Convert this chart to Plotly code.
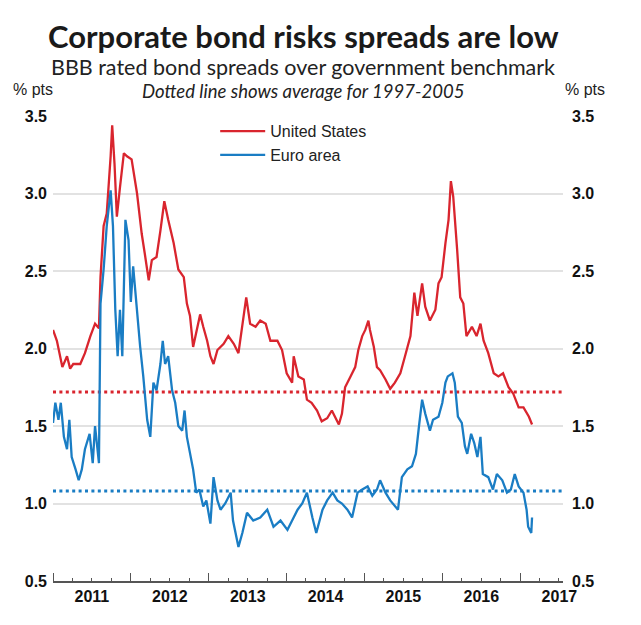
import datetime as dt
import plotly.graph_objects as go

# ---- data (decimal years) ----
us_t = [2011.00, 2011.05, 2011.12, 2011.18, 2011.22, 2011.26, 2011.35, 2011.41, 2011.48, 2011.54,
        2011.59, 2011.61, 2011.65, 2011.69, 2011.74, 2011.76, 2011.79, 2011.82, 2011.86, 2011.91,
        2011.95, 2012.01, 2012.08, 2012.14, 2012.18, 2012.23, 2012.27, 2012.33, 2012.38, 2012.43,
        2012.48, 2012.55, 2012.61, 2012.68, 2012.72, 2012.76, 2012.80, 2012.85, 2012.89, 2012.93,
        2012.98, 2013.02, 2013.06, 2013.11, 2013.19, 2013.25, 2013.32, 2013.38, 2013.43, 2013.48,
        2013.53, 2013.60, 2013.66, 2013.73, 2013.79, 2013.88, 2013.94, 2014.00, 2014.07, 2014.09,
        2014.15, 2014.22, 2014.26, 2014.32, 2014.39, 2014.45, 2014.52, 2014.58, 2014.62, 2014.67,
        2014.71, 2014.75, 2014.82, 2014.88, 2014.92, 2014.97, 2015.01, 2015.05, 2015.07, 2015.12,
        2015.16, 2015.20, 2015.27, 2015.33, 2015.39, 2015.46, 2015.52, 2015.59, 2015.64, 2015.68,
        2015.74, 2015.78, 2015.84, 2015.91, 2015.95, 2015.99, 2016.04, 2016.08, 2016.11, 2016.14,
        2016.19, 2016.23, 2016.27, 2016.31, 2016.38, 2016.44, 2016.49, 2016.53, 2016.59, 2016.66,
        2016.72, 2016.78, 2016.85, 2016.91, 2016.98, 2017.04, 2017.11, 2017.15]
us_v = [2.12, 2.05, 1.88, 1.95, 1.87, 1.90, 1.90, 1.97, 2.08, 2.16,
        2.13, 2.46, 2.79, 2.87, 3.24, 3.44, 3.19, 2.85, 3.04, 3.26,
        3.24, 3.22, 3.00, 2.74, 2.61, 2.44, 2.57, 2.59, 2.76, 2.95,
        2.83, 2.68, 2.51, 2.46, 2.29, 2.21, 2.01, 2.12, 2.22, 2.14,
        2.05, 1.95, 1.90, 1.99, 2.03, 2.08, 2.03, 1.97, 2.14, 2.33,
        2.16, 2.14, 2.18, 2.16, 2.05, 2.05, 1.99, 1.84, 1.78, 1.95,
        1.82, 1.80, 1.67, 1.65, 1.60, 1.53, 1.55, 1.60, 1.56, 1.51,
        1.58, 1.75, 1.82, 1.88, 1.99, 2.08, 2.12, 2.18, 2.12, 2.01,
        1.88, 1.86, 1.80, 1.74, 1.78, 1.84, 1.95, 2.08, 2.36, 2.21,
        2.42, 2.27, 2.18, 2.25, 2.42, 2.46, 2.68, 2.83, 3.08, 2.98,
        2.64, 2.33, 2.29, 2.08, 2.14, 2.08, 2.16, 2.05, 1.97, 1.84,
        1.82, 1.84, 1.75, 1.71, 1.62, 1.62, 1.56, 1.51]

ea_t = [2011.00, 2011.03, 2011.07, 2011.10, 2011.14, 2011.18, 2011.21, 2011.24, 2011.29, 2011.33,
        2011.37, 2011.41, 2011.47, 2011.51, 2011.54, 2011.59, 2011.61, 2011.65, 2011.69, 2011.74,
        2011.77, 2011.80, 2011.83, 2011.86, 2011.89, 2011.93, 2011.97, 2012.00, 2012.03, 2012.08,
        2012.12, 2012.16, 2012.21, 2012.25, 2012.29, 2012.33, 2012.38, 2012.41, 2012.44, 2012.48,
        2012.53, 2012.57, 2012.61, 2012.66, 2012.69, 2012.72, 2012.76, 2012.80, 2012.84, 2012.88,
        2012.93, 2012.97, 2013.02, 2013.06, 2013.11, 2013.15, 2013.21, 2013.28, 2013.31, 2013.38,
        2013.43, 2013.49, 2013.57, 2013.66, 2013.75, 2013.83, 2013.92, 2014.01, 2014.07, 2014.14,
        2014.20, 2014.26, 2014.33, 2014.38, 2014.46, 2014.52, 2014.59, 2014.65, 2014.71, 2014.78,
        2014.84, 2014.91, 2014.97, 2015.04, 2015.10, 2015.16, 2015.20, 2015.27, 2015.33, 2015.39,
        2015.43, 2015.48, 2015.55, 2015.61, 2015.66, 2015.70, 2015.74, 2015.78, 2015.84, 2015.88,
        2015.95, 2016.00, 2016.04, 2016.07, 2016.13, 2016.16, 2016.20, 2016.25, 2016.29, 2016.32,
        2016.37, 2016.41, 2016.45, 2016.49, 2016.52, 2016.59, 2016.65, 2016.70, 2016.77, 2016.83,
        2016.88, 2016.93, 2016.98, 2017.04, 2017.08, 2017.10, 2017.14, 2017.15]
ea_v = [1.52, 1.65, 1.54, 1.65, 1.43, 1.35, 1.54, 1.30, 1.22, 1.15,
        1.22, 1.35, 1.45, 1.26, 1.50, 1.26, 2.29, 2.51, 2.79, 3.02,
        2.79, 2.25, 1.95, 2.25, 1.95, 2.83, 2.70, 2.30, 2.53, 2.21,
        2.01, 1.82, 1.54, 1.43, 1.78, 1.73, 1.90, 2.05, 1.90, 1.95,
        1.73, 1.65, 1.50, 1.47, 1.60, 1.43, 1.32, 1.22, 1.07, 1.09,
        0.98, 1.02, 0.87, 1.17, 1.02, 0.96, 1.00, 1.07, 0.89, 0.72,
        0.81, 0.94, 0.89, 0.91, 0.96, 0.85, 0.89, 0.83, 0.89, 0.96,
        1.00, 1.07, 0.91, 0.81, 0.96, 1.02, 1.07, 1.02, 1.00, 0.96,
        0.91, 1.07, 1.09, 1.11, 1.05, 1.09, 1.15, 1.07, 1.02, 0.98,
        0.96, 1.17, 1.22, 1.24, 1.32, 1.50, 1.67, 1.58, 1.47, 1.54,
        1.56, 1.65, 1.78, 1.82, 1.84, 1.78, 1.56, 1.52, 1.37, 1.32,
        1.45, 1.39, 1.30, 1.43, 1.19, 1.17, 1.09, 1.19, 1.15, 1.07,
        1.09, 1.19, 1.11, 1.07, 0.96, 0.85, 0.81, 0.91]

avg_us = 1.72       # 1997-2005 average, United States
avg_ea = 1.08       # 1997-2005 average, Euro area

series_names = ["United States", "Euro area"]
y_ticks = [0.5, 1.0, 1.5, 2.0, 2.5, 3.0, 3.5]
x_start, x_end = "2011-01-01", "2017-07-20"

RED = "#d9252e"
BLUE = "#1a7dc4"


def to_date(t):
    y = int(t)
    return dt.datetime(y, 1, 1) + dt.timedelta(days=(t - y) * 365.25)


us_x = [to_date(t) for t in us_t]
ea_x = [to_date(t) for t in ea_t]

fig = go.Figure()

# average (dotted) lines
fig.add_trace(go.Scatter(x=[x_start, x_end], y=[avg_us, avg_us], mode="lines",
                         line=dict(color=RED, width=3, dash="3px,3.4px"),
                         showlegend=False, hoverinfo="skip"))
fig.add_trace(go.Scatter(x=[x_start, x_end], y=[avg_ea, avg_ea], mode="lines",
                         line=dict(color=BLUE, width=3, dash="3px,3.4px"),
                         showlegend=False, hoverinfo="skip", yaxis="y2"))

fig.add_trace(go.Scatter(x=us_x, y=us_v, mode="lines", name=series_names[0],
                         line=dict(color=RED, width=2.3)))
fig.add_trace(go.Scatter(x=ea_x, y=ea_v, mode="lines", name=series_names[1],
                         line=dict(color=BLUE, width=2.3)))

SANS = "Liberation Sans, Arial, sans-serif"
bold_tick = dict(family=SANS, size=16, color="#111111", weight="bold")

fig.update_layout(
    width=633, height=617,
    margin=dict(l=45, r=78, t=108, b=44),
    paper_bgcolor="white", plot_bgcolor="white",
    showlegend=True,
    legend=dict(x=0.318, y=1.004, xanchor="left", yanchor="top",
                font=dict(family=SANS, size=16, color="#222222"),
                bgcolor="rgba(255,255,255,0)", itemwidth=45, tracegroupgap=0),
    xaxis=dict(type="date", range=[x_start, x_end],
               tick0="2011-01-01", dtick="M12", ticklabelmode="period",
               tickformat="%Y", ticks="inside", ticklen=8, tickwidth=1.2, tickcolor="#555555",
               showline=True, linecolor="#555555", linewidth=1.5,
               showgrid=False, zeroline=False, tickfont=bold_tick,
               minor=dict(dtick="M3", tick0="2011-01-01", ticks="inside", ticklen=3,
                          tickcolor="#555555", tickwidth=1, showgrid=False)),
    yaxis=dict(range=[0.5, 3.5], tickvals=y_ticks, tickformat=".1f",
               showgrid=True, gridcolor="#e2e2e2", gridwidth=1.5,
               zeroline=False, showline=False, ticks="", ticklabelstandoff=5,
               tickfont=bold_tick),
    yaxis2=dict(range=[0.5, 3.5], tickvals=y_ticks, tickformat=".1f",
                overlaying="y", side="right", showgrid=False, zeroline=False,
                showline=False, ticks="", ticklabelstandoff=8, tickfont=bold_tick),
    annotations=[
        dict(text="<b>Corporate bond risks spreads are low</b>", x=0.491, y=1.172,
             xref="paper", yref="paper", showarrow=False, xanchor="center", yanchor="middle",
             font=dict(family="Lato, Open Sans, sans-serif", size=31, color="#1a1a1a")),
        dict(text="BBB rated bond spreads over government benchmark", x=0.491, y=1.105,
             xref="paper", yref="paper", showarrow=False, xanchor="center", yanchor="middle",
             font=dict(family="Lato, Open Sans, sans-serif", size=21.5, color="#222222")),
        dict(text="<i>Dotted line shows average for 1997-2005</i>", x=0.491, y=1.0527,
             xref="paper", yref="paper", showarrow=False, xanchor="center", yanchor="middle",
             font=dict(family="Lato, Open Sans, sans-serif", size=18.5, color="#222222")),
        dict(text="% pts", x=-0.039, y=1.056, xref="paper", yref="paper", showarrow=False,
             xanchor="center", yanchor="middle",
             font=dict(family=SANS, size=16, color="#222222")),
        dict(text="% pts", x=1.043, y=1.056, xref="paper", yref="paper", showarrow=False,
             xanchor="center", yanchor="middle",
             font=dict(family=SANS, size=16, color="#222222")),
    ],
)

fig.write_html("out.html")
